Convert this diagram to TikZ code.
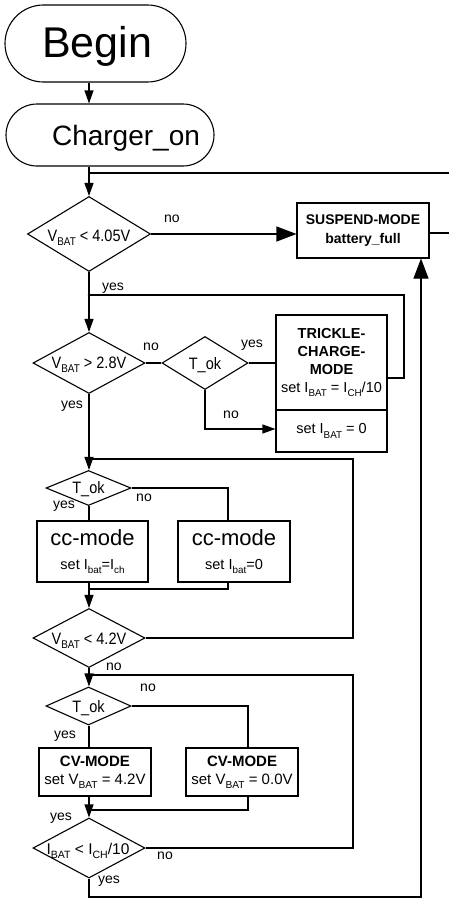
\documentclass[tikz,border=0pt]{standalone}
\usepackage{fontspec}
\setmainfont{Liberation Sans}
\newfontfamily\narrowsf[FakeStretch=0.88]{Liberation Sans}
\usepackage{graphicx}
\usetikzlibrary{shapes.geometric,shapes.misc,arrows.meta}
\newcommand{\lowsub}[1]{\raisebox{-0.55ex}{\scalebox{0.68}{#1}}}
\begin{document}
\begin{tikzpicture}[x=1pt,y=-1pt,
  line width=1.1pt,
  box/.style={draw, rectangle, inner sep=0pt, align=center, font=\fontsize{14}{18}\selectfont},
  dia/.style={draw, diamond, inner sep=0pt},
  term/.style={draw, rounded rectangle, inner sep=0pt},
  arr/.style={-{Triangle[length=13pt,width=9pt]}},
  bigarr/.style={-{Triangle[length=20pt,width=15pt]}},
  lbl/.style={font=\fontsize{14}{16}\selectfont, inner sep=0pt},
  dtxt/.style={font=\narrowsf\fontsize{16.5}{19}\selectfont, inner sep=0pt, anchor=base},
  itxt/.style={font=\fontsize{15.5}{19}\selectfont, inner sep=0pt, anchor=base},
]
\useasboundingbox (0,0) rectangle (448,899);

% terminals
\node[term, minimum width=181, minimum height=77] (begin) at (95.5,43.5) {};
\node[font=\fontsize{43}{46}\selectfont, inner sep=0pt, anchor=base] (begint) at (97,57) {Begin};
\node[term, minimum width=208, minimum height=62] (charger) at (110,135) {};
\node[font=\fontsize{28}{30}\selectfont, inner sep=0pt, anchor=base] (chargert) at (126,145) {Charger\_on};

% decisions
\node[dia, minimum width=123, minimum height=75] (d1) at (89,234) {};
\node[dtxt] (d1t) at (89,241) {V\lowsub{BAT} < 4.05V};
\node[dia, minimum width=112, minimum height=61] (d2) at (89,363) {};
\node[dtxt] (d2t) at (89,368) {V\lowsub{BAT} > 2.8V};
\node[dia, minimum width=86, minimum height=53] (tok1) at (205,363) {};
\node[dtxt] (tok1t) at (205,369) {T\_ok};
\node[dia, minimum width=85, minimum height=35] (tok2) at (88.5,488) {};
\node[dtxt] (tok2t) at (88.5,493) {T\_ok};
\node[dia, minimum width=112, minimum height=59] (d3) at (89,638) {};
\node[dtxt] (d3t) at (89,644) {V\lowsub{BAT} < 4.2V};
\node[dia, minimum width=85, minimum height=38] (tok3) at (88.5,706) {};
\node[dtxt] (tok3t) at (88.5,712) {T\_ok};
\node[dia, minimum width=112, minimum height=60] (d4) at (89,848) {};
\node[itxt] (d4t) at (88,854) {I\lowsub{BAT} < I\lowsub{CH}/10};

% boxes
\node[box, minimum width=132, minimum height=55, font=\fontsize{14}{19}\selectfont\bfseries] (suspend) at (363,230.5) {SUSPEND-MODE\\battery\_full};
\node[box, minimum width=111, minimum height=95, font=\fontsize{14.5}{18}\selectfont] (trickle) at (331.5,362.5) {\textbf{TRICKLE-}\\\textbf{CHARGE-}\\\textbf{MODE}\\set I\lowsub{BAT} = I\lowsub{CH}/10};
\node[box, minimum width=111, minimum height=42, font=\fontsize{14.5}{18}\selectfont] (set0) at (331.5,431) {set I\lowsub{BAT} = 0};
\node[box, minimum width=111, minimum height=61, font=\fontsize{14.5}{24}\selectfont] (cc1) at (92.5,551.5) {{\fontsize{22}{24}\selectfont cc-mode}\\set I\lowsub{bat}=I\lowsub{ch}};
\node[box, minimum width=112, minimum height=61, font=\fontsize{14.5}{24}\selectfont] (cc2) at (234,551.5) {{\fontsize{22}{24}\selectfont cc-mode}\\set I\lowsub{bat}=0};
\node[box, minimum width=112, minimum height=48, font=\fontsize{15}{18}\selectfont] (cv1) at (95,772) {\textbf{CV-MODE}\\set V\lowsub{BAT} = 4.2V};
\node[box, minimum width=112, minimum height=48, font=\fontsize{15}{18}\selectfont] (cv2) at (242,772) {\textbf{CV-MODE}\\set V\lowsub{BAT} = 0.0V};

% coordinates
\coordinate (m) at (89,0);
\coordinate (j0) at (89,173);
\coordinate (j1) at (89,295);
\coordinate (r1) at (404,295);
\coordinate (j2) at (89,459);
\coordinate (r2) at (353,459);
\coordinate (j3) at (89,589);
\coordinate (j4) at (89,675);
\coordinate (r4) at (353,675);
\coordinate (j5) at (89,810);
\coordinate (r6) at (421,897);

% connectors
\draw[arr] (begin.south -| m) -- (charger.north -| m);
\draw[arr] (charger.south -| m) -- (d1.north);
\draw[line width=1.6pt] ([yshift=-2.5pt]suspend.east) -- ++(26,0) |- (j0);
\draw[bigarr] (d1.east) -- (d1.east -| suspend.west);
\draw[arr] (d1.south) -- (d2.north);
\draw ([yshift=-15.5pt]trickle.east) -| (r1) -- (j1);
\fill (j1) circle (1.4pt);
\draw (d2.east) -- (tok1.west);
\draw (tok1.east) -- (tok1.east -| trickle.west);
\draw[arr] (tok1.south) |- ([yshift=2pt]set0.west);
\draw[arr] (d2.south) -- (tok2.north -| m);
\draw (d3.east) -| (r2) -- (j2);
\draw (tok2.south -| m) -- (cc1.north -| m);
\draw (tok2.east) -| ([xshift=-6pt]cc2.north);
\draw[arr] (cc1.south -| m) -- (d3.north);
\draw ([xshift=-6pt]cc2.south) |- (j3);
\draw[arr] (d3.south) -- (tok3.north -| m);
\draw (d4.east) -| (r4) -- (j4);
\draw (tok3.south -| m) -- (cv1.north -| m);
\draw (tok3.east) -| ([xshift=6pt]cv2.north);
\draw[arr] (cv1.south -| m) -- (d4.north);
\draw ([xshift=6pt]cv2.south) |- (j5);
\draw[bigarr] (d4.south) |- (r6) -- (r6 |- suspend.south);

% labels
\node[lbl] (l1) at (172,219) {no};
\node[lbl] (l2) at (113,288) {yes};
\node[lbl] (l3) at (151,347) {no};
\node[lbl] (l4) at (252,345) {yes};
\node[lbl] (l5) at (231,415) {no};
\node[lbl] (l6) at (72,406) {yes};
\node[lbl] (l7) at (64,506) {yes};
\node[lbl] (l8) at (144,498) {no};
\node[lbl] (l9) at (114,667) {no};
\node[lbl] (l10) at (148,688) {no};
\node[lbl] (l11) at (65,736) {yes};
\node[lbl] (l12) at (61,818) {yes};
\node[lbl] (l13) at (165,856) {no};
\node[lbl] (l14) at (109,881) {yes};
\end{tikzpicture}
\end{document}
